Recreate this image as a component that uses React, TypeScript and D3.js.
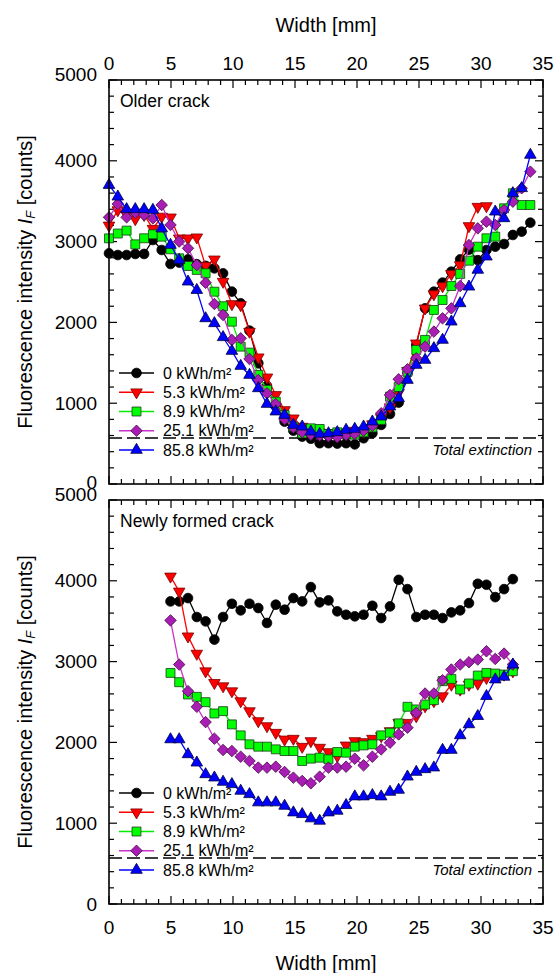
import React from "react";
import * as d3 from "d3";

// width positions of the profile points [mm]
const olderWidth = [
  0.0, 0.71, 1.42, 2.12, 2.83, 3.54, 4.25, 4.96, 5.66, 6.37, 7.08, 7.79, 8.5, 9.2, 9.91, 10.62, 11.33,
  12.04, 12.74, 13.45, 14.16, 14.87, 15.58, 16.28, 16.99, 17.7, 18.41, 19.12, 19.82, 20.53, 21.24,
  21.95, 22.66, 23.36, 24.07, 24.78, 25.49, 26.2, 26.9, 27.61, 28.32, 29.03, 29.74, 30.44, 31.15,
  31.86, 32.57, 33.28, 33.98,
];
const newWidth = [
  4.96, 5.66, 6.37, 7.08, 7.79, 8.5, 9.2, 9.91, 10.62, 11.33, 12.04, 12.74, 13.45, 14.16, 14.87,
  15.58, 16.28, 16.99, 17.7, 18.41, 19.12, 19.82, 20.53, 21.24, 21.95, 22.66, 23.36, 24.07, 24.78,
  25.49, 26.2, 26.9, 27.61, 28.32, 29.03, 29.74, 30.44, 31.15, 31.86, 32.57,
];

// older crack
const older0 = [
  2855, 2834, 2834, 2847, 2847, 3020, 2896, 2723, 2740, 2780, 2720, 2700, 2669, 2607, 2381, 2236,
  1898, 1494, 1213, 960, 772, 660, 586, 560, 505, 505, 500, 505, 490, 566, 628, 731, 867, 1007,
  1370, 1720, 2174, 2380, 2492, 2628, 2780, 2900, 2770, 2896, 2937, 2970, 3082, 3123, 3234,
];
const older53 = [
  3200, 3390, 3330, 3280, 3330, 3160, 3310, 3300, 3041, 3041, 3053, 2700, 2780, 2504, 2228, 2215,
  1886, 1568, 1320, 1102, 916, 813, 710, 660, 640, 630, 620, 640, 660, 650, 740, 820, 950, 1130,
  1400, 1741, 2174, 2350, 2450, 2600, 2710, 3193, 3432, 3440,
];
const older89 = [
  3040, 3100, 3136, 2966, 3041, 3090, 3061, 2905, 2793, 2698, 2649, 2608, 2380, 2200, 2009, 1700,
  1626, 1350, 1164, 1019, 854, 710, 627, 689, 681, 619, 640, 620, 610, 640, 700, 793, 1081, 1200,
  1390, 1659, 1783, 2154, 2277, 2450, 2600, 2764, 2937, 3041, 3061, 3412, 3598, 3453, 3453,
];
const older251 = [
  3300, 3466, 3300, 3358, 3330, 3288, 3453, 3206, 3000, 2917, 2711, 2490, 2228, 2092, 1783, 1803,
  1547, 1287, 1122, 990, 800, 700, 640, 610, 600, 590, 580, 607, 620, 660, 720, 875, 1102, 1296,
  1420, 1556, 1700, 1886, 2050, 2174, 2450, 2958, 3164, 3247, 3206, 3391, 3494, 3660, 3866,
];
const older858 = [
  3700, 3556, 3400, 3400, 3400, 3391, 3164, 2958, 2772, 2504, 2400, 2050, 1989, 1816, 1646, 1460,
  1349, 1184, 990, 896, 854, 731, 710, 648, 619, 627, 640, 669, 681, 710, 772, 834, 958, 1061, 1287,
  1473, 1535, 1680, 1783, 2009, 2236, 2442, 2650, 2814, 3370, 3288, 3598, 3660, 4073,
];

// newly formed crack
const new0 = [
  3745, 3745, 3786, 3552, 3498, 3272, 3552, 3716, 3634, 3716, 3663, 3478, 3704, 3642, 3786, 3745,
  3922, 3733, 3757, 3622, 3580, 3560, 3580, 3691, 3539, 3683, 4012, 3897, 3552, 3580, 3580, 3539,
  3609, 3634, 3724, 3963, 3951, 3798, 3897, 4021,
];
const new53 = [
  4054, 3868, 3313, 3099, 2881, 2737, 2696, 2634, 2511, 2387, 2264, 2202, 2120, 2037, 2046, 1947,
  2017, 1935, 1881, 1832, 1963, 2017, 2005, 2046, 2079, 2140, 2243, 2243, 2325, 2449, 2511, 2572,
  2716, 2655, 2716, 2729, 2799, 2840, 2840, 2881,
];
const new89 = [
  2860, 2745, 2593, 2564, 2498, 2358, 2387, 2223, 2087, 1976, 1947, 1947, 1914, 1893, 1893, 1770,
  1799, 1811, 1791, 1881, 1873, 1947, 1963, 1976, 2087, 2120, 2235, 2441, 2408, 2469, 2523, 2758,
  2786, 2655, 2729, 2827, 2860, 2852, 2840, 2881,
];
const new251 = [
  3510, 2963, 2634, 2441, 2251, 2046, 1906, 1893, 1823, 1770, 1688, 1688, 1700, 1634, 1564, 1523,
  1494, 1576, 1688, 1688, 1700, 1799, 1716, 1823, 1914, 1996, 2099, 2182, 2367, 2605, 2605, 2770,
  2902, 2963, 2992, 3025, 3128, 3033, 3099, 2963,
];
const new858 = [
  2037, 2037, 1852, 1749, 1605, 1564, 1511, 1482, 1400, 1358, 1256, 1256, 1256, 1214, 1132, 1111,
  1058, 1029, 1132, 1153, 1223, 1330, 1330, 1346, 1330, 1387, 1412, 1576, 1634, 1667, 1688, 1906,
  1906, 2087, 2223, 2325, 2572, 2778, 2811, 2963,
];

const doseLabels = ["0 kWh/m²", "5.3 kWh/m²", "8.9 kWh/m²", "25.1 kWh/m²", "85.8 kWh/m²"];
const xTickLabels = [0, 5, 10, 15, 20, 25, 30, 35];
const yTickLabels = [0, 1000, 2000, 3000, 4000, 5000];
const totalExtinction = 570;

const FONT = "'Liberation Sans', Arial, sans-serif";
const W = 556;
const H = 973;
const LEFT = 109;
const RIGHT = 543;

const styles = [
  { line: "#000000", fill: "#000000", stroke: "#000000", shape: "circle" },
  { line: "#ff0000", fill: "#ff0000", stroke: "#7a0000", shape: "down" },
  { line: "#00ee00", fill: "#00ff00", stroke: "#1a3a1a", shape: "square" },
  { line: "#c832c8", fill: "#a81eb4", stroke: "#4a104a", shape: "diamond" },
  { line: "#0000ff", fill: "#0000ff", stroke: "#000040", shape: "up" },
];

function markerPath(shape: string) {
  if (shape === "circle") return d3.symbol().type(d3.symbolCircle).size(74)()!;
  if (shape === "square") return d3.symbol().type(d3.symbolSquare).size(80)()!;
  if (shape === "diamond") return d3.symbol().type(d3.symbolSquare).size(66)()!;
  return d3.symbol().type(d3.symbolTriangle).size(58)()!;
}

function markerRotate(shape: string) {
  if (shape === "down") return 180;
  if (shape === "diamond") return 45;
  return 0;
}

function Marker({ cx, cy, s }: any) {
  return (
    <path
      d={markerPath(s.shape)}
      transform={`translate(${cx},${cy}) rotate(${markerRotate(s.shape)})`}
      fill={s.fill}
      stroke={s.stroke}
      strokeWidth={0.8}
    />
  );
}

function Panel({ top, bottom, widths, series, label, axisOnTop }: any) {
  const x = d3.scaleLinear().domain([0, 35]).range([LEFT, RIGHT]);
  const y = d3.scaleLinear().domain([0, 5000]).range([bottom, top]);
  const line = d3
    .line<[number, number]>()
    .x((d) => x(d[0]))
    .y((d) => y(d[1]));

  const xMinor = x.ticks(35);
  const yMinor = y.ticks(25);
  const legendY = d3.scaleLinear().domain([0, 4]).range([bottom - 111, bottom - 34]);
  const midY = (top + bottom) / 2;

  // nudge the end labels apart where the two panels meet
  const labelShift = (t: number) => (t === 5000 ? -6 : t === 0 && axisOnTop ? -2 : 0);

  return (
    <g>
      {/* ticks, inside on all four sides */}
      {xMinor.map((t) => {
        const len = t % 5 === 0 ? 8 : 5;
        return (
          <g key={"xt" + t}>
            <line x1={x(t)} x2={x(t)} y1={bottom} y2={bottom - len} stroke="#000" strokeWidth={1.2} />
            <line x1={x(t)} x2={x(t)} y1={top} y2={top + len} stroke="#000" strokeWidth={1.2} />
          </g>
        );
      })}
      {yMinor.map((t) => {
        const len = t % 1000 === 0 ? 8 : 5;
        return (
          <g key={"yt" + t}>
            <line x1={LEFT} x2={LEFT + len} y1={y(t)} y2={y(t)} stroke="#000" strokeWidth={1.2} />
            <line x1={RIGHT} x2={RIGHT - len} y1={y(t)} y2={y(t)} stroke="#000" strokeWidth={1.2} />
          </g>
        );
      })}

      {yTickLabels.map((t) => (
        <text
          key={"yl" + t}
          x={97}
          y={y(t) + labelShift(t)}
          textAnchor="end"
          dominantBaseline="central"
          fontSize={19}
        >
          {t}
        </text>
      ))}
      {xTickLabels.map((t) => (
        <text
          key={"xl" + t}
          x={x(t)}
          y={axisOnTop ? top - 17 : bottom + 23}
          textAnchor="middle"
          dominantBaseline="central"
          fontSize={19}
        >
          {t}
        </text>
      ))}
      <text
        x={(LEFT + RIGHT) / 2}
        y={axisOnTop ? top - 55 : bottom + 59}
        textAnchor="middle"
        dominantBaseline="central"
        fontSize={20}
      >
        Width [mm]
      </text>
      <text
        transform={`translate(25,${midY}) rotate(-90)`}
        textAnchor="middle"
        dominantBaseline="central"
        fontSize={20}
      >
        Fluorescence intensity <tspan fontStyle="italic">I</tspan>
        <tspan fontStyle="italic" fontSize={13} dy={5}>F</tspan>
        <tspan dy={-5}> [counts]</tspan>
      </text>

      {/* total extinction level */}
      <line
        x1={LEFT}
        x2={RIGHT}
        y1={y(totalExtinction)}
        y2={y(totalExtinction)}
        stroke="#000"
        strokeWidth={1.4}
        strokeDasharray="13 5"
      />
      <text
        x={532}
        y={y(totalExtinction) + 12}
        textAnchor="end"
        dominantBaseline="central"
        fontSize={15}
        fontStyle="italic"
      >
        Total extinction
      </text>

      {series.map((vals: number[], si: number) => {
        const pts: [number, number][] = vals.map((v, i) => [widths[i], v]);
        const s = styles[si];
        return (
          <g key={"s" + si}>
            <path d={line(pts)!} fill="none" stroke={s.line} strokeWidth={1.3} />
            {pts.map((p, i) => (
              <Marker key={i} cx={x(p[0])} cy={y(p[1])} s={s} />
            ))}
          </g>
        );
      })}

      {/* legend */}
      {doseLabels.map((lab, i) => (
        <g key={"lg" + i}>
          <line x1={119} x2={154} y1={legendY(i)} y2={legendY(i)} stroke={styles[i].line} strokeWidth={1.3} />
          <Marker cx={136.5} cy={legendY(i)} s={styles[i]} />
          <text x={163} y={legendY(i)} dominantBaseline="central" fontSize={16}>
            {lab}
          </text>
        </g>
      ))}

      <text x={120} y={top + 21} dominantBaseline="central" fontSize={17.5}>
        {label}
      </text>

      <rect x={LEFT} y={top} width={RIGHT - LEFT} height={bottom - top} fill="none" stroke="#000" strokeWidth={1.6} />
    </g>
  );
}

export default function App() {
  return (
    <svg
      width={W}
      height={H}
      viewBox={`0 0 ${W} ${H}`}
      style={{ position: "absolute", left: 0, top: 0, background: "#fff", fontFamily: FONT }}
    >
      <rect width={W} height={H} fill="#fff" />
      <Panel
        top={80}
        bottom={484}
        widths={olderWidth}
        series={[older0, older53, older89, older251, older858]}
        label="Older crack"
        axisOnTop={true}
      />
      <Panel
        top={500}
        bottom={904}
        widths={newWidth}
        series={[new0, new53, new89, new251, new858]}
        label="Newly formed crack"
        axisOnTop={false}
      />
    </svg>
  );
}
